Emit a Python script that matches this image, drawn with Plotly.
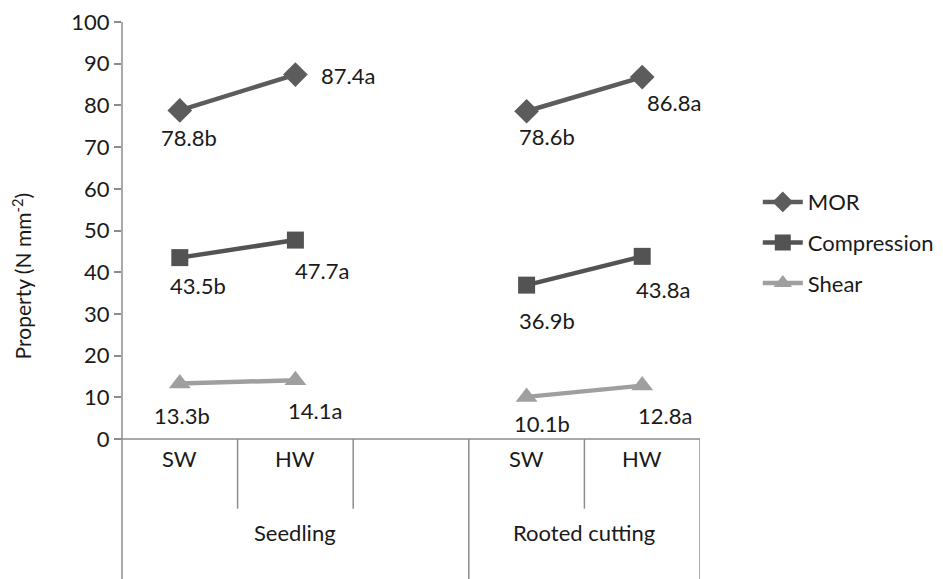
import plotly.graph_objects as go

sub_labels = ["SW", "HW", "", "SW", "HW"]
group_labels = ["Seedling", "Rooted cutting"]
x_pos = [0.5, 1.5, 3.5, 4.5]  # slot centres: Seedling SW, HW, Rooted SW, HW

series = ["MOR", "Compression", "Shear"]
mor = [78.8, 87.4, 78.6, 86.8]
compression = [43.5, 47.7, 36.9, 43.8]
shear = [13.3, 14.1, 10.1, 12.8]
mor_lbl = ["78.8b", "87.4a", "78.6b", "86.8a"]
comp_lbl = ["43.5b", "47.7a", "36.9b", "43.8a"]
shear_lbl = ["13.3b", "14.1a", "10.1b", "12.8a"]
y_title = "Property (N mm<sup>-2</sup>)"

FONT = "Lato"
FS = 22
TXT = "#1a1a1a"
AX = "#8c8c8c"
styles = {
    "MOR": dict(color="#5c5c5c", symbol="diamond", size=19),
    "Compression": dict(color="#535353", symbol="square", size=17),
    "Shear": dict(color="#9f9f9f", symbol="triangle-up", size=19),
}
values = {"MOR": mor, "Compression": compression, "Shear": shear}
labels = {"MOR": mor_lbl, "Compression": comp_lbl, "Shear": shear_lbl}

fig = go.Figure()
for name in series:
    st = styles[name]
    v = values[name]
    for k, (i0, i1) in enumerate([(0, 1), (2, 3)]):
        fig.add_trace(go.Scatter(
            x=[x_pos[i0], x_pos[i1]], y=[v[i0], v[i1]],
            mode="lines+markers", name=name, legendgroup=name,
            showlegend=(k == 0),
            line=dict(color=st["color"], width=4.5),
            marker=dict(color=st["color"], symbol=st["symbol"], size=st["size"]),
        ))

offsets = {
    "MOR": [(9, -27), (53, -1), (20, -25), (32, -25)],
    "Compression": [(18, -28), (27, -30), (20, -35), (21, -33)],
    "Shear": [(2, -32), (20, -30), (15, -27), (23, -30)],
}
annotations = []
for name in series:
    for i, (xv, yv, t) in enumerate(zip(x_pos, values[name], labels[name])):
        dx, dy = offsets[name][i]
        annotations.append(dict(x=xv, y=yv, text=t, showarrow=False,
                                xshift=dx, yshift=dy, xref="x", yref="y",
                                font=dict(family=FONT, size=FS, color=TXT)))

for i, t in enumerate(sub_labels):
    if t:
        annotations.append(dict(x=i + 0.5, y=-0.0833, xref="x", yref="paper", text=t,
                                showarrow=False, font=dict(family=FONT, size=FS, color=TXT)))
annotations.append(dict(x=1.5, y=-0.262, xref="x", yref="paper", text=group_labels[0],
                        showarrow=False, font=dict(family=FONT, size=FS, color=TXT)))
annotations.append(dict(x=4.0, y=-0.262, xref="x", yref="paper", text=group_labels[1],
                        showarrow=False, font=dict(family=FONT, size=FS, color=TXT)))
annotations.append(dict(x=-0.173, y=0.39, xref="paper", yref="paper", text=y_title,
                        textangle=-90, showarrow=False, xanchor="center", yanchor="middle",
                        font=dict(family=FONT, size=21, color=TXT)))

shapes = []
ln = dict(color=AX, width=1.5)
shapes.append(dict(type="line", xref="paper", yref="paper", x0=-0.013, x1=1, y0=0, y1=0, line=ln))
shapes.append(dict(type="line", xref="paper", yref="paper", x0=0, x1=0, y0=-0.36, y1=1, line=ln))
for xv in [1, 2, 4]:
    shapes.append(dict(type="line", xref="x", yref="paper", x0=xv, x1=xv, y0=-0.167, y1=0, line=ln))
for xv in [3, 5]:
    shapes.append(dict(type="line", xref="x", yref="paper", x0=xv, x1=xv, y0=-0.36, y1=0, line=ln))

fig.update_layout(
    width=943, height=579,
    margin=dict(l=114, r=251, t=14, b=148, autoexpand=False),
    paper_bgcolor="white", plot_bgcolor="white",
    font=dict(family=FONT, size=FS, color=TXT),
    xaxis=dict(range=[0, 5], showticklabels=False, showgrid=False, zeroline=False,
               showline=False, ticks=""),
    yaxis=dict(range=[0, 100], dtick=10, showgrid=False, zeroline=False,
               showline=False, ticks="outside", ticklen=7, tickcolor=AX, tickwidth=1.5,
               ticklabeloverflow="allow",
               tickfont=dict(family=FONT, size=FS, color=TXT)),
    legend=dict(x=1.10, y=0.471, xanchor="left", yanchor="middle",
                font=dict(family=FONT, size=FS, color=TXT),
                tracegroupgap=9, itemwidth=40, bgcolor="rgba(0,0,0,0)"),
    annotations=annotations,
    shapes=shapes,
)
fig.write_html("out.html")
